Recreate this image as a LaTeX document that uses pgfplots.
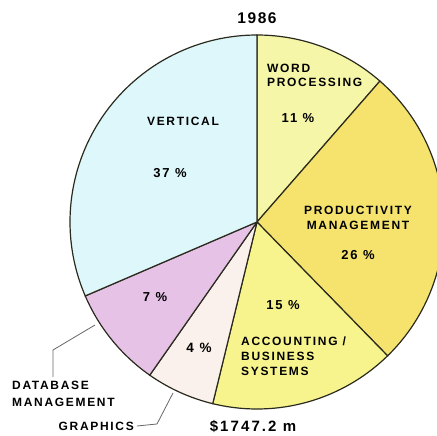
\documentclass[border=0pt]{standalone}
\usepackage{fontspec}
\usepackage{pgfplots}
\pgfplotsset{compat=1.18}
\setmainfont{Liberation Sans}
\newfontfamily\lab{Liberation Sans}[LetterSpace=14]
\newfontfamily\wide{Liberation Sans}[LetterSpace=10]

\definecolor{cVert}{HTML}{DDF7FA}
\definecolor{cWord}{HTML}{F6F6A8}
\definecolor{cProd}{HTML}{F5E36E}
\definecolor{cAcct}{HTML}{F7F48E}
\definecolor{cGraph}{HTML}{FBF1EC}
\definecolor{cData}{HTML}{E6C3E6}
\definecolor{edge}{HTML}{2A2A1E}

\begin{document}
\begin{tikzpicture}
\useasboundingbox (0,0) rectangle (437pt,436pt);
\begin{axis}[
    at={(0,0)}, anchor=south west,
    width=437pt, height=436pt, scale only axis,
    xmin=0, xmax=437, ymin=0, ymax=436,
    axis lines=none, ticks=none, clip=true,
]
% slices: boundary angles (deg) as drawn in the original, centre (257,214), r=187
% Word processing 11%, Productivity 26%, Accounting 15%, Graphics 4%, Database 7%, Vertical 37%
\addplot[fill=cWord, draw=edge, line width=1.2pt, domain=48.9:90, samples=40]
  ({257+187*cos(x)},{214+187*sin(x)}) -- (axis cs:257,214) -- cycle;
\addplot[fill=cProd, draw=edge, line width=1.2pt, domain=-45.7:48.9, samples=80]
  ({257+187*cos(x)},{214+187*sin(x)}) -- (axis cs:257,214) -- cycle;
\addplot[fill=cAcct, draw=edge, line width=1.2pt, domain=-103.7:-45.7, samples=50]
  ({257+187*cos(x)},{214+187*sin(x)}) -- (axis cs:257,214) -- cycle;
\addplot[fill=cGraph, draw=edge, line width=1.2pt, domain=-125:-103.7, samples=20]
  ({257+187*cos(x)},{214+187*sin(x)}) -- (axis cs:257,214) -- cycle;
\addplot[fill=cData, draw=edge, line width=1.2pt, domain=-156.7:-125, samples=30]
  ({257+187*cos(x)},{214+187*sin(x)}) -- (axis cs:257,214) -- cycle;
\addplot[fill=cVert, draw=edge, line width=1.2pt, domain=90:203.3, samples=90]
  ({257+187*cos(x)},{214+187*sin(x)}) -- (axis cs:257,214) -- cycle;

% leader lines
\addplot[gray!80!black, line width=0.8pt] coordinates {(95,111) (53,86) (53,59)};
\addplot[gray!80!black, line width=0.8pt] coordinates {(173,43) (157,12) (137,10)};

% texts
\begin{scope}[every node/.style={font=\lab\bfseries\fontsize{12}{14}\selectfont, inner sep=0pt}]
\node at (axis cs:257,418) {\wide\bfseries\fontsize{15.5}{17}\selectfont 1986};
\node[anchor=west] at (axis cs:267,368) {WORD};
\node[anchor=west] at (axis cs:267,354) {PROCESSING};
\node at (axis cs:298,318) {\fontsize{13}{15}\selectfont 11 \%};
\node at (axis cs:183,315) {VERTICAL};
\node at (axis cs:170,263) {\fontsize{13}{15}\selectfont 37 \%};
\node at (axis cs:358,226) {PRODUCTIVITY};
\node at (axis cs:358,211) {MANAGEMENT};
\node at (axis cs:358,181) {\fontsize{13}{15}\selectfont 26 \%};
\node at (axis cs:283,131) {\fontsize{13}{15}\selectfont 15 \%};
\node at (axis cs:155,139) {\fontsize{13}{15}\selectfont 7 \%};
\node at (axis cs:199,88) {\fontsize{13.5}{15}\selectfont 4 \%};
\node[anchor=west] at (axis cs:241,95) {ACCOUNTING /};
\node[anchor=west] at (axis cs:241,80) {BUSINESS};
\node[anchor=west] at (axis cs:241,65) {SYSTEMS};
\node[anchor=west] at (axis cs:12,51) {DATABASE};
\node[anchor=west] at (axis cs:12,34) {MANAGEMENT};
\node[anchor=east] at (axis cs:134,10) {GRAPHICS};
\node at (axis cs:253,10) {\fontsize{15}{17}\selectfont \$1747.2 m};
\end{scope}
\end{axis}
\end{tikzpicture}
\end{document}
